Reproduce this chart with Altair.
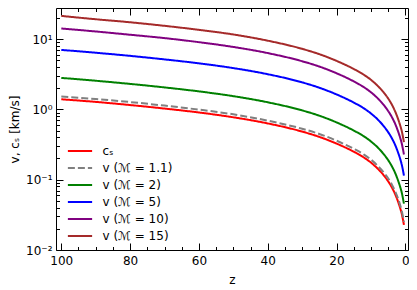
import altair as alt
import pandas as pd

# ---- data ----
z = [100, 90, 80, 70, 60, 50, 40, 30, 25, 20, 15, 12, 10, 8, 6, 5, 4, 3, 2, 1.5, 1, 0.7, 0.4]
cs = [1.39, 1.276, 1.151, 1.026, 0.902, 0.771, 0.631, 0.483, 0.406, 0.326, 0.250, 0.206, 0.175,
      0.143, 0.111, 0.095, 0.079, 0.063, 0.047, 0.0395, 0.0322, 0.0273, 0.0228]
v_m11 = [1.52, 1.40, 1.27, 1.13, 0.99, 0.85, 0.69, 0.53, 0.447, 0.359, 0.275, 0.227, 0.193,
         0.157, 0.122, 0.105, 0.087, 0.069, 0.052, 0.0435, 0.0354, 0.030, 0.0251]
v_m2 = [2.80, 2.55, 2.30, 2.05, 1.80, 1.54, 1.26, 0.966, 0.812, 0.652, 0.50, 0.412, 0.35,
        0.286, 0.222, 0.19, 0.158, 0.126, 0.094, 0.079, 0.0644, 0.0546, 0.0456]
v_m5 = [7.0, 6.38, 5.76, 5.13, 4.51, 3.86, 3.16, 2.42, 2.03, 1.63, 1.25, 1.03, 0.875,
        0.715, 0.555, 0.475, 0.395, 0.315, 0.235, 0.198, 0.161, 0.137, 0.114]
v_m10 = [14.1, 12.8, 11.5, 10.3, 9.02, 7.71, 6.31, 4.83, 4.06, 3.26, 2.50, 2.06, 1.75,
         1.43, 1.11, 0.95, 0.79, 0.63, 0.47, 0.395, 0.322, 0.273, 0.228]
v_m15 = [21.3, 19.1, 17.3, 15.4, 13.5, 11.6, 9.47, 7.25, 6.09, 4.89, 3.75, 3.09, 2.63,
         2.15, 1.67, 1.43, 1.19, 0.945, 0.705, 0.593, 0.483, 0.41, 0.342]

series_labels = ["cₛ", "v (ℳ = 1.1)", "v (ℳ = 2)", "v (ℳ = 5)", "v (ℳ = 10)", "v (ℳ = 15)"]
series_values = [cs, v_m11, v_m2, v_m5, v_m10, v_m15]
colors = ["#ff0000", "#808080", "#008000", "#0000ff", "#800080", "#a52a2a"]
dashes = [[1, 0], [7, 3], [1, 0], [1, 0], [1, 0], [1, 0]]

x_major = [0, 20, 40, 60, 80, 100]
x_minor = [5, 10, 15, 25, 30, 35, 45, 50, 55, 65, 70, 75, 85, 90, 95]
y_major = [0.01, 0.1, 1, 10]
y_major_labels = ["10⁻²", "10⁻¹", "10⁰", "10¹"]
y_minor = [0.02, 0.03, 0.04, 0.05, 0.06, 0.07, 0.08, 0.09,
           0.2, 0.3, 0.4, 0.5, 0.6, 0.7, 0.8, 0.9,
           2, 3, 4, 5, 6, 7, 8, 9, 20]

rows = []
for lab, vals in zip(series_labels, series_values):
    for zi, vi in zip(z, vals):
        rows.append({"series": lab, "z": zi, "v": vi})
df = pd.DataFrame(rows)

W, H = 352, 242
FONT = "DejaVu Sans"

x_scale = alt.Scale(domain=[-0.78, 101.54], reverse=True, nice=False, zero=False)
y_scale = alt.Scale(type="log", domain=[0.01, 27.6], nice=False)

label_expr = "[" + ",".join("'" + s + "'" for s in y_major_labels) + "][round(log(datum.value)/LN10)+2]"

legend = alt.Legend(
    title=None, orient="none", legendX=14, legendY=133,
    symbolType="M-1.4,0H1.4", symbolSize=300, symbolStrokeWidth=2,
    labelFontSize=12, labelFont=FONT, labelOffset=12.5, rowPadding=1, padding=0,
)

base = alt.Chart(df)

lines = base.mark_line(strokeWidth=2, interpolate="monotone", clip=True).encode(
    x=alt.X("z:Q", scale=x_scale, axis=alt.Axis(
        orient="bottom", values=x_major, ticks=False, domain=False, grid=False,
        labelFontSize=12, labelPadding=5, title="z", titleFontSize=12,
        titleFontWeight="normal", titlePadding=8)),
    y=alt.Y("v:Q", scale=y_scale, axis=alt.Axis(
        orient="left", values=y_major, ticks=False, domain=False, grid=False,
        labelExpr=label_expr, labelFontSize=12, labelPadding=4,
        title="v, cₛ [km/s]", titleFontSize=12, titleFontWeight="normal", titlePadding=4)),
    color=alt.Color("series:N", scale=alt.Scale(domain=series_labels, range=colors), legend=legend),
    strokeDash=alt.StrokeDash("series:N", scale=alt.Scale(domain=series_labels, range=dashes), legend=legend),
)


def tick_layer(xorient, yorient, xvals, yvals, size):
    return base.mark_point(opacity=0).encode(
        x=alt.X("z:Q", scale=x_scale, axis=alt.Axis(
            orient=xorient, offset=-H, values=xvals, tickSize=size, labels=False,
            domain=False, grid=False, title=None, tickColor="black", tickWidth=1)),
        y=alt.Y("v:Q", scale=y_scale, axis=alt.Axis(
            orient=yorient, offset=-W, values=yvals, tickSize=size, labels=False,
            domain=False, grid=False, title=None, tickColor="black", tickWidth=1)),
    )


chart = alt.layer(
    lines,
    tick_layer("top", "right", x_major, y_major, 7),
    tick_layer("bottom", "left", x_major, y_major, 7),
    tick_layer("top", "right", x_minor, y_minor, 3.5),
    tick_layer("bottom", "left", x_minor, y_minor, 3.5),
).resolve_axis(x="independent", y="independent").properties(
    width=W, height=H,
    autosize=alt.AutoSizeParams(type="none"),
    padding={"left": 48, "top": 0, "right": 1, "bottom": 36},
    background="white",
).configure_view(stroke="black", strokeWidth=1).configure_axis(
    labelFont=FONT, titleFont=FONT, labelColor="black", titleColor="black",
).configure_text(font=FONT)

chart.save("out.html", embed_options={"renderer": "svg", "actions": False})
